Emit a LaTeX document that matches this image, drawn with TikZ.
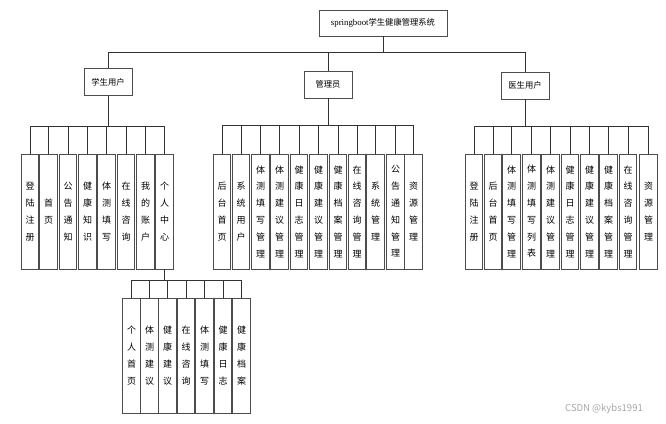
\documentclass[tikz,border=0pt]{standalone}
\usepackage{fontspec}
\setmainfont{Noto Sans CJK SC}
\newfontfamily\latinserif{Liberation Serif}
\usepackage{xcolor}
\usepackage{tikz}
\usetikzlibrary{positioning, calc}
\tikzset{
  rootbox/.style={draw=black!70, line width=0.9pt, minimum width=128pt, minimum height=26pt, inner sep=1pt, fill=white},
  headbox/.style={draw=black!70, line width=0.9pt, minimum width=48pt, minimum height=27pt, inner sep=1pt, fill=white},
  leaf/.style={draw=black!70, line width=0.9pt, minimum width=17.5pt, minimum height=115pt, inner sep=0pt, align=center,
    font=\fontsize{9}{16.8}\selectfont, fill=white},
  link/.style={draw=black!80, line width=0.8pt}
}

\begin{document}
\begin{tikzpicture}[x=1pt, y=-1pt, font=\fontsize{8.3}{10}\selectfont]
        \useasboundingbox (0,0) rectangle (666,423);

        % Root and first level
        \node[rootbox] (root) at (383,23) {{\latinserif\fontsize{8.8}{10}\selectfont springboot}学生健康管理系统};
        \node[headbox] (stu) at (108,82)   {学生用户};
        \node[headbox] (adm) at (328,84.5) {管理员};
        \node[headbox] (doc) at (525,85.5) {医生用户};

        % Bus levels
        \coordinate (rootbar) at (0,52);
        \coordinate (stubar)  at (0,126);
        \coordinate (admbar)  at (0,125);
        \coordinate (docbar)  at (0,126);
        \coordinate (subbar)  at (0,280);

        % Student leaves
        \node[leaf] (s1) at (30,211.5)    {登\\陆\\注\\册};
        \node[leaf] (s2) at (48.5,211.5)  {首\\页};
        \node[leaf] (s3) at (68,211.5)    {公\\告\\通\\知};
        \node[leaf] (s4) at (87.5,211.5)  {健\\康\\知\\识};
        \node[leaf] (s5) at (106.5,211.5) {体\\测\\填\\写};
        \node[leaf] (s6) at (126,211.5)   {在\\线\\咨\\询};
        \node[leaf] (s7) at (145.5,211.5) {我\\的\\账\\户};
        \node[leaf] (s8) at (164.5,211.5) {个\\人\\中\\心};

        % Personal centre leaves
        \node[leaf] (p1) at (131.5,355.5) {个\\人\\首\\页};
        \node[leaf] (p2) at (149.5,355.5) {体\\测\\建\\议};
        \node[leaf] (p3) at (167.5,355.5) {健\\康\\建\\议};
        \node[leaf] (p4) at (186,355.5)   {在\\线\\咨\\询};
        \node[leaf] (p5) at (204.5,355.5) {体\\测\\填\\写};
        \node[leaf] (p6) at (223,355.5)   {健\\康\\日\\志};
        \node[leaf] (p7) at (241.5,355.5) {健\\康\\档\\案};

        % Admin leaves
        \node[leaf] (a1)  at (222,211.5)   {后\\台\\首\\页};
        \node[leaf] (a2)  at (241,211.5)   {系\\统\\用\\户};
        \node[leaf] (a3)  at (260.5,211.5) {体\\测\\填\\写\\管\\理};
        \node[leaf] (a4)  at (279.5,211.5) {体\\测\\建\\议\\管\\理};
        \node[leaf] (a5)  at (299,211.5)   {健\\康\\日\\志\\管\\理};
        \node[leaf] (a6)  at (318.5,211.5) {健\\康\\建\\议\\管\\理};
        \node[leaf] (a7)  at (338,211.5)   {健\\康\\档\\案\\管\\理};
        \node[leaf] (a8)  at (357,211.5)   {在\\线\\咨\\询\\管\\理};
        \node[leaf] (a9)  at (375.5,211.5) {系\\统\\管\\理};
        \node[leaf] (a10) at (395.5,211.5) {公\\告\\通\\知\\管\\理};
        \node[leaf] (a11) at (413.5,211.5) {资\\源\\管\\理};

        % Doctor leaves
        \node[leaf] (d1)  at (474,211.5)   {登\\陆\\注\\册};
        \node[leaf] (d2)  at (493,211.5)   {后\\台\\首\\页};
        \node[leaf] (d3)  at (511.5,211.5) {体\\测\\填\\写\\管\\理};
        \node[leaf] (d4)  at (531.5,211.5) {体\\测\\填\\写\\列\\表};
        \node[leaf] (d5)  at (550.5,211.5) {体\\测\\建\\议\\管\\理};
        \node[leaf] (d6)  at (570,211.5)   {健\\康\\日\\志\\管\\理};
        \node[leaf] (d7)  at (589.5,211.5) {健\\康\\建\\议\\管\\理};
        \node[leaf] (d8)  at (608.5,211.5) {健\\康\\档\\案\\管\\理};
        \node[leaf] (d9)  at (628,211.5)   {在\\线\\咨\\询\\管\\理};
        \node[leaf] (d10) at (648.5,211.5) {资\\源\\管\\理};

        % Links
        \foreach \n in {stu,adm,doc}
          \draw[link] (root.south) -- (root.south |- rootbar) -| (\n.north);
        \foreach \n in {s1,s2,s3,s4,s5,s6,s7,s8}
          \draw[link] (stu.south) -- (stu.south |- stubar) -| (\n.north);
        \foreach \n in {a1,a2,a3,a4,a5,a6,a7,a8,a9,a10,a11}
          \draw[link] (adm.south) -- (adm.south |- admbar) -| (\n.north);
        \foreach \n in {d1,d2,d3,d4,d5,d6,d7,d8,d9,d10}
          \draw[link] (doc.south) -- (doc.south |- docbar) -| (\n.north);
        \foreach \n in {p1,p2,p3,p4,p5,p6,p7}
          \draw[link] (s8.south) -- (s8.south |- subbar) -| (\n.north);

        % Watermark
        \node[text=black!35, font=\fontsize{9.5}{11}\selectfont] (mark) at (604,409) {CSDN @kybs1991};
\end{tikzpicture}
\end{document}
